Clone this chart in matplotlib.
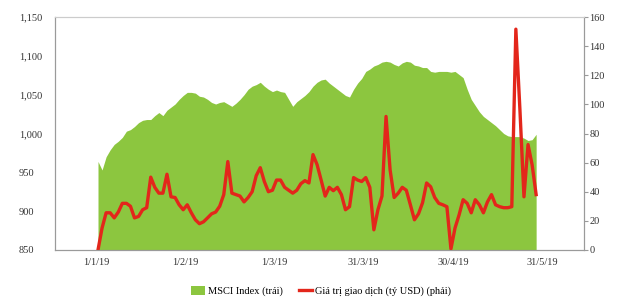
import numpy as np
import matplotlib
matplotlib.use("Agg")
import matplotlib.pyplot as plt
from matplotlib.patches import Patch
from matplotlib.lines import Line2D

# MSCI index (left axis), one value per trading session
msci = [964, 953, 970, 979, 986, 990, 995, 1003, 1005, 1009,
        1014, 1017, 1018, 1018, 1023, 1027, 1023, 1030, 1034, 1038,
        1044, 1049, 1053, 1053, 1052, 1048, 1047, 1044, 1040, 1038,
        1040, 1041, 1038, 1035, 1039, 1044, 1050, 1057, 1061, 1063,
        1066, 1061, 1057, 1054, 1056, 1054, 1053, 1044, 1035, 1041,
        1045, 1049, 1054, 1061, 1066, 1069, 1070, 1065, 1061, 1057,
        1053, 1049, 1047, 1057, 1065, 1071, 1080, 1083, 1087, 1089,
        1092, 1093, 1092, 1089, 1087, 1091, 1093, 1092, 1088, 1087,
        1085, 1085, 1080, 1079, 1080, 1080, 1080, 1079, 1080, 1076,
        1072, 1057, 1044, 1036, 1028, 1022, 1018, 1014, 1010, 1005,
        1000, 997, 996, 996, 996, 994, 991, 992, 999]

# trading value, bn USD (right axis)
value = [0, 15, 25.5, 25.5, 22, 26, 32, 32, 30, 22,
         23, 27.6, 29, 50, 43, 39, 39, 52, 36.5, 36,
         31, 27.6, 31, 25.5, 20.7, 18, 19.3, 22, 24.8, 26,
         30, 38, 60.7, 39, 38, 37, 33, 36, 40, 51,
         56.5, 47, 40, 41, 48, 48, 43, 41, 39, 41,
         45.5, 47.6, 46, 65.5, 58.6, 48, 37, 43, 40.7, 43,
         38, 27.6, 29.7, 49.7, 48, 47, 49.7, 43, 13.8, 27.6,
         37, 91.7, 55, 36, 39, 43, 41, 31, 20.7, 24.8,
         32.4, 46, 43.4, 36, 32, 31, 29.7, 0.7, 15, 24,
         34.5, 32, 25.5, 34.5, 31, 25.5, 33, 38, 31, 29.7,
         29, 29, 29.7, 151.7, 96.5, 36.5, 72.4, 58.6, 38]

tick_labels = ["1/1/19", "1/2/19", "1/3/19", "31/3/19", "30/4/19", "31/5/19"]
tick_step = 22  # sessions between date labels

GREEN = "#8cc63f"
RED = "#e3261b"
GREY = "#9a9a9a"

plt.rcParams["font.family"] = ["Liberation Serif", "DejaVu Serif"]

x = np.arange(len(msci))
fig = plt.figure(figsize=(6.18, 3.0), dpi=100)
ax = fig.add_axes([0.089, 0.167, 0.856, 0.776])
ax2 = ax.twinx()

ax.fill_between(x, 850, msci, color=GREEN, lw=0)
ax2.plot(x, value, color=RED, lw=2.4, solid_joinstyle="round")

ax.set_xlim(-10.6, 119.8)
ax.set_ylim(850, 1150)
ax2.set_ylim(0, 160)

ax.set_xticks([-0.5 + tick_step * k for k in range(len(tick_labels))])
ax.set_xticklabels(tick_labels)
ax.set_yticks(np.arange(850, 1151, 50))
ax.set_yticklabels([f"{v:,}" for v in range(850, 1151, 50)])
ax2.set_yticks(np.arange(0, 161, 20))

ax.tick_params(axis="x", length=0, pad=6, labelsize=7.5, colors="#333333")
ax.tick_params(axis="y", length=0, pad=26, labelsize=7.5, colors="#333333")
for lab in ax.get_yticklabels():
    lab.set_horizontalalignment("left")
ax2.tick_params(axis="y", length=3, width=0.8, pad=1, labelsize=7.5,
                colors="#333333", direction="out")
ax2.tick_params(axis="y", color=GREY)

for a in (ax, ax2):
    for s in a.spines.values():
        s.set_color(GREY)
        s.set_linewidth(0.8)
ax.spines["top"].set_color("#cccccc")
ax2.spines["top"].set_color("#cccccc")

handles = [Patch(facecolor=GREEN, edgecolor="none"),
           Line2D([0], [0], color=RED, lw=2.4)]
labels = ["MSCI Index (trái)", "Giá trị giao dịch (tỷ USD) (phải)"]
fig.legend(handles, labels, loc="center", bbox_to_anchor=(0.52, 0.03),
           ncol=2, frameon=False, fontsize=7.5, handlelength=1.3,
           handleheight=0.9, handletextpad=0.3, columnspacing=1.5)

fig.savefig("out.png", dpi=100)
